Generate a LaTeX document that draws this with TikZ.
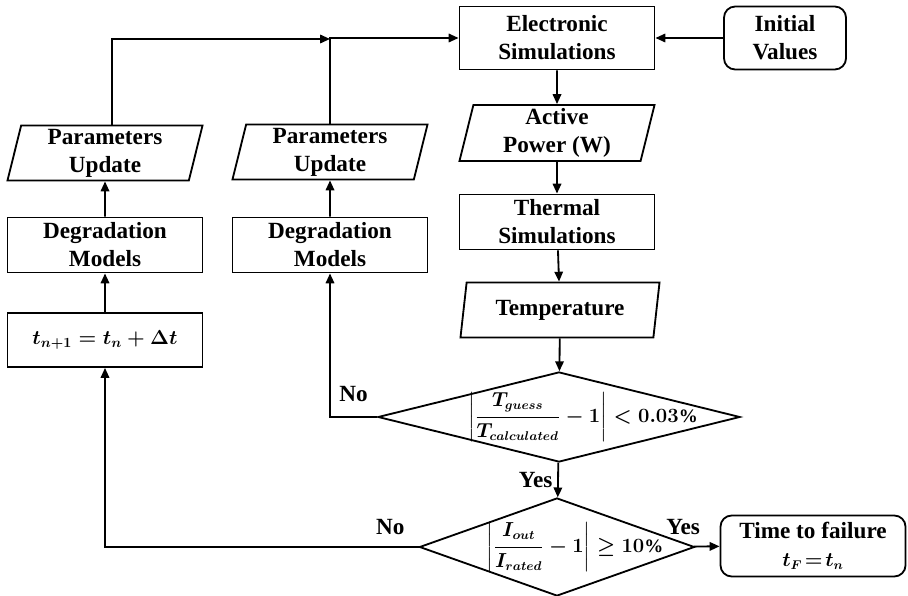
\documentclass[tikz,border=0pt]{standalone}
\usepackage{amsmath}
\usepackage{fontspec}
\setmainfont{Liberation Serif}
\usetikzlibrary{positioning, arrows.meta, shapes.geometric}

\newcommand{\eqsize}{\fontsize{13.5}{16}\selectfont}

\begin{document}
\begin{tikzpicture}[
    x=0.025cm, y=-0.025cm,
    line width=1.3pt,
    every node/.style={font=\fontsize{16.5}{20}\selectfont\bfseries\boldmath},
    process/.style={rectangle, draw, align=center, minimum width=4.875cm,
    minimum height=1.375cm, inner sep=1pt},
    data/.style={trapezium, trapezium left angle=75, trapezium right angle=105,
    trapezium stretches body, draw, align=center, minimum width=4.875cm,
    minimum height=1.375cm, inner sep=1pt},
    terminator/.style={rectangle, rounded corners=8pt, draw, align=center},
    decision/.style={diamond, draw, inner sep=0pt},
    eq/.style={font=\eqsize\bfseries\boldmath},
    flow/.style={-{Triangle[length=7pt, width=6pt]}},
  ]
  \useasboundingbox (0,0) rectangle (908,596);

  % main column
  \node[process, minimum height=1.575cm] (elec) at (557,38) {Electronic\\Simulations};
  \node[terminator, minimum width=3.05cm, minimum height=1.575cm] (init) at (785,38) {Initial\\Values};
  \node[data, minimum height=1.4cm] (power) at (557,133) {Active\\Power (W)};
  \node[process] (therm) at (557,222) {Thermal\\Simulations};
  \node[data, minimum width=4.975cm] (temp) at (560,310) {Temperature};
  \node[decision, minimum width=9.05cm, minimum height=2.25cm] (conv) at (559,417) {};
  \node[eq] (convtext) at ([xshift=0.6cm]conv.center)
    {$\left|\dfrac{T_{guess}}{T_{calculated}}-1\right|<0.03\%$};
  \node[decision, minimum width=6.875cm, minimum height=2.45cm] (fail) at (557,547) {};
  \node[eq] (failtext) at ([xshift=0.45cm]fail.center)
    {$\left|\dfrac{I_{out}}{I_{rated}}-1\right|\geq 10\%$};
  \node[terminator, minimum width=4.625cm, minimum height=1.525cm] (ttf) at (813,546)
    {Time to failure\\{\eqsize$t_F\!=\!t_n$}};

  % degradation columns
  \node[data] (upd1) at (105,153) {Parameters\\Update};
  \node[data] (upd2) at (330,152) {Parameters\\Update};
  \node[process] (deg1) at (105,245) {Degradation\\Models};
  \node[process] (deg2) at (330,245) {Degradation\\Models};
  \node[process, minimum height=1.35cm, font=\fontsize{14.5}{17}\selectfont\boldmath] (tnext) at (105,340)
    {$t_{n+1}=t_n+\Delta t$};
  \coordinate (join) at (330,39);

  \draw[flow] (init) -- (elec);
  \draw[flow] (elec) -- (power);
  \draw[flow] (power) -- (therm);
  \draw[flow] (therm) -- (temp);
  \draw[flow] (temp) -- (conv);
  \draw[flow] (conv) -- node[left] (yes1) {Yes} (fail);
  \draw[flow] (fail) -- node[pos=0.45, anchor=south east, yshift=4pt] (yes2) {Yes} (ttf);
  \draw[flow] (fail.west) -| node[pos=0.045, above=5pt] (no2) {No} (tnext);
  \draw[flow] (conv.west) -| node[pos=0.25, above=7pt] (no1) {No} (deg2);
  \draw[flow] (tnext) -- (deg1);
  \draw[flow] (deg1) -- (upd1);
  \draw[flow] (deg2) -- (upd2);
  \draw[flow] ([xshift=0.175cm]upd1.north) |- (join);
  \draw[flow] (upd2.north) |- (elec.west);

\end{tikzpicture}
\end{document}
